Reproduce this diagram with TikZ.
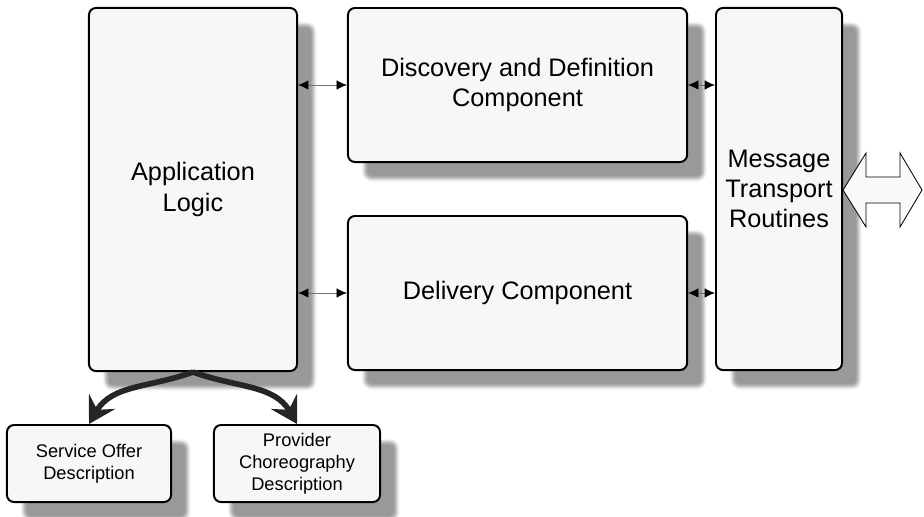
\documentclass[tikz,border=0pt]{standalone}
\usepackage{fontspec}
\setmainfont{Liberation Sans}
\usepackage{tikz}
\usetikzlibrary{arrows.meta,positioning,calc,shadows.blur}
\tikzset{
  block/.style={draw=black, line width=1.4pt, fill=black!3, rounded corners=5pt, align=center,
    font=\fontsize{18}{21.5}\selectfont,
    blur shadow={shadow xshift=0.42cm, shadow yshift=-0.42cm, shadow blur radius=0.08cm, shadow opacity=40}},
  smallblock/.style={block, font=\fontsize{13}{15.6}\selectfont},
  link/.style={{Latex[length=2.6mm,width=2.4mm,color=black]}-{Latex[length=2.6mm,width=2.4mm,color=black]}, line width=0.6pt, draw=black!55},
  bigarrow/.style={-{Stealth[length=6.5mm,width=7.5mm,inset=2.4mm]}, line width=4pt, draw=black!85},
  openarrow/.style={draw=black, line width=0.6pt, fill=black!2}
}
\begin{document}
\begin{tikzpicture}[x=0.025cm,y=-0.025cm]
\useasboundingbox (0,0) rectangle (924,516);
% main blocks
\node[block, minimum width=5.2cm, minimum height=9.075cm] (app) at (193,189.5) {Application\\Logic};
\node[block, minimum width=8.475cm, minimum height=3.85cm] (disc) at (517.5,85) {Discovery and Definition\\Component};
\node[block, minimum width=8.475cm, minimum height=3.85cm] (deliv) at (517.5,293) {Delivery Component};
\node[block, minimum width=3.15cm, minimum height=9.05cm] (msg) at (779,189) {Message\\Transport\\Routines};
% descriptions
\node[smallblock, minimum width=4.1cm, minimum height=1.925cm] (offer) at (89,463.5) {Service Offer\\Description};
\node[smallblock, minimum width=4.15cm, minimum height=1.925cm] (prov) at (297,463.5) {Provider\\Choreography\\Description};
% links
\draw[link] (app.east |- disc.west) -- (disc.west);
\draw[link] (app.east |- deliv.west) -- (deliv.west);
\draw[link] (disc.east) -- (msg.west |- disc.east);
\draw[link] (deliv.east) -- (msg.west |- deliv.east);
\draw[bigarrow] (app.south) to[out=200,in=60] (offer.north);
\draw[bigarrow] (app.south) to[out=-20,in=120] (prov.north);
% outside
\draw[openarrow] (843,190) -- (866,153) -- (866,177) -- (900,177) -- (900,153) -- (922,190)
  -- (900,227) -- (900,203) -- (866,203) -- (866,227) -- cycle;
\end{tikzpicture}
\end{document}
